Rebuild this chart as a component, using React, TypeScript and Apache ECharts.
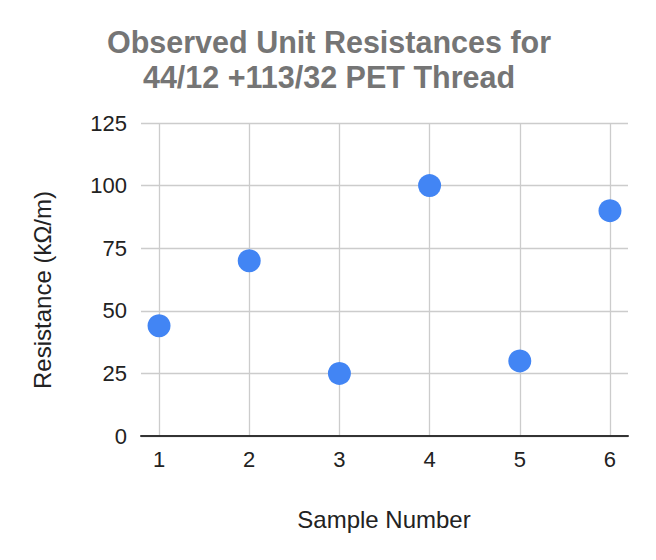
import React, { useEffect, useRef } from "react";
import * as echarts from "echarts";

const sampleNumbers = [1, 2, 3, 4, 5, 6];
const resistances = [44, 70, 25, 100, 30, 90];
const xTicks = [1, 2, 3, 4, 5, 6];
const titleLines = ["Observed Unit Resistances for", "44/12 +113/32 PET Thread"];
const xName = "Sample Number";
const yName = "Resistance (kΩ/m)";

export default function App() {
  const ref = useRef<HTMLDivElement>(null);
  useEffect(() => {
    const chart = echarts.init(ref.current!, null, { renderer: "svg" });
    const font = "Arial, 'Liberation Sans', sans-serif";
    chart.setOption({
      animation: false,
      backgroundColor: "#ffffff",
      textStyle: { fontFamily: font },
      grid: { left: 141, right: 28, top: 123, bottom: 124 },
      graphic: [
        ...titleLines.map((line, i) => ({
          type: "text",
          x: 329,
          y: 42 + i * 35,
          style: {
            text: line,
            font: `bold 30.5px ${font}`,
            fill: "#757575",
            align: "center",
            verticalAlign: "middle",
          },
        })),
        {
          type: "text",
          x: 384,
          y: 519,
          style: {
            text: xName,
            font: `24px ${font}`,
            fill: "#222222",
            align: "center",
            verticalAlign: "middle",
          },
        },
        {
          type: "text",
          x: 42,
          y: 290,
          rotation: Math.PI / 2,
          style: {
            text: yName,
            font: `24px ${font}`,
            fill: "#222222",
            align: "center",
            verticalAlign: "middle",
          },
        },
      ],
      xAxis: {
        type: "value",
        min: 0.8,
        max: 6.2,
        axisLine: { show: true, onZero: false, lineStyle: { color: "#333333", width: 2 } },
        axisTick: { show: false, customValues: xTicks },
        axisLabel: {
          customValues: xTicks,
          color: "#222222",
          fontSize: 22,
          margin: 12,
          fontFamily: font,
        },
        splitLine: { show: true, lineStyle: { color: "#cccccc", width: 1.3 } },
      },
      yAxis: {
        type: "value",
        min: 0,
        max: 125,
        interval: 25,
        axisLine: { show: false },
        axisTick: { show: false },
        axisLabel: { color: "#222222", fontSize: 22, margin: 14, fontFamily: font },
        splitLine: { show: true, lineStyle: { color: "#cccccc", width: 1.3 } },
      },
      series: [
        {
          type: "scatter",
          data: sampleNumbers.map((x, i) => [x, resistances[i]]),
          symbol: "circle",
          symbolSize: 23,
          itemStyle: { color: "#4285F4", opacity: 1 },
          z: 5,
        },
      ],
    });
    return () => chart.dispose();
  }, []);
  return <div ref={ref} style={{ width: 656, height: 560, margin: -8 }} />;
}
